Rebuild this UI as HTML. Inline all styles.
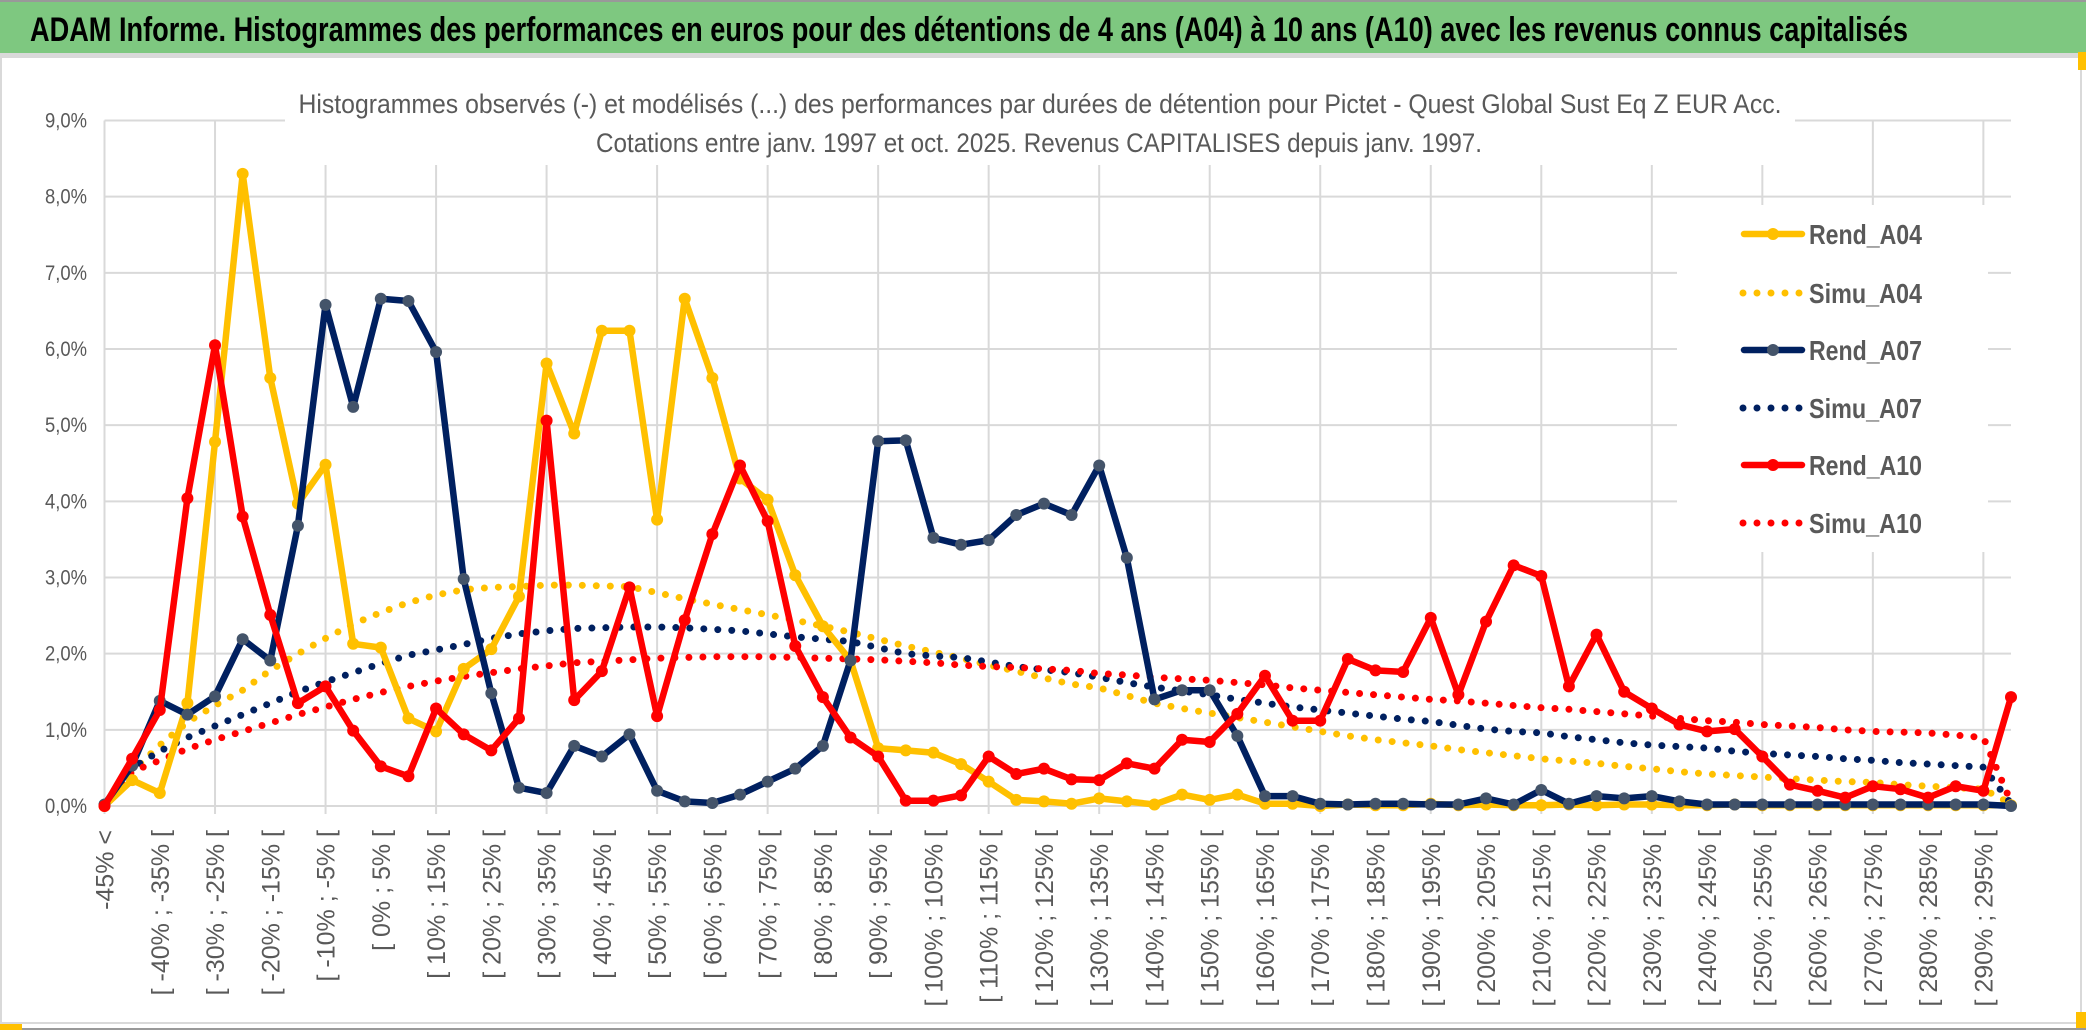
<!DOCTYPE html>
<html><head><meta charset="utf-8"><style>
html,body{margin:0;padding:0;background:#fff;}
svg{display:block;font-family:"Liberation Sans",sans-serif;}
</style></head><body>
<svg id="chart" width="2086" height="1033" viewBox="0 0 2086 1033" xmlns="http://www.w3.org/2000/svg">
<rect x="0" y="0" width="2086" height="1033" fill="#fff"/>
<rect x="0" y="2" width="2086" height="51" fill="#7EC880"/>
<rect x="0" y="0" width="2086" height="2" fill="#999"/>
<rect x="0" y="53" width="2086" height="4" fill="#d9d9d9"/>
<text x="30" y="41" font-size="34" font-weight="bold" fill="#000" textLength="1878" lengthAdjust="spacingAndGlyphs">ADAM Informe. Histogrammes des performances en euros pour des détentions de 4 ans (A04) à 10 ans (A10) avec les revenus connus capitalisés</text>
<rect x="1" y="57" width="2080" height="966" fill="none" stroke="#d9d9d9" stroke-width="2"/>
<rect x="0" y="1028" width="2086" height="2" fill="#999"/>
<rect x="0" y="1024" width="22" height="6" fill="#FFC000"/>
<rect x="2078" y="52" width="8" height="18" fill="#FFC000"/>
<rect x="2076" y="1012" width="10" height="16" fill="#FFC000"/>
<g id="grid"></g>
<g id="xlabels"></g>
<g id="ylabels"></g>
<rect x="285" y="80" width="1510" height="85" fill="#fff"/>
<text x="1040" y="113" font-size="27" fill="#595959" text-anchor="middle" textLength="1483" lengthAdjust="spacingAndGlyphs">Histogrammes observés (-) et modélisés (...) des performances par durées de détention pour Pictet - Quest Global Sust Eq Z EUR Acc.</text>
<text x="1039" y="152" font-size="27" fill="#595959" text-anchor="middle" textLength="886" lengthAdjust="spacingAndGlyphs">Cotations entre janv. 1997 et oct. 2025. Revenus CAPITALISES depuis janv. 1997.</text>
<g id="series"></g>
<rect x="1677" y="205" width="311" height="347" fill="#fff"/>
<g id="legend"></g>
</svg>
<script>
const categories = ["-45% <"];
for (let i = 1; i < 70; i++) { const lo = -45 + 5 * (i - 1); categories.push("[ " + lo + "% ; " + (lo + 5) + "% ["); }
const yTicks = [0,1,2,3,4,5,6,7,8,9];
const yTickLabels = ["0,0%","1,0%","2,0%","3,0%","4,0%","5,0%","6,0%","7,0%","8,0%","9,0%"];
const seriesNames = ["Rend_A04","Simu_A04","Rend_A07","Simu_A07","Rend_A10","Simu_A10"];
const rendA04 = [0,0.34,0.17,1.35,4.78,8.3,5.62,3.97,4.48,2.13,2.08,1.15,0.98,1.8,2.06,2.75,5.81,4.89,
6.24,6.24,3.76,6.66,5.62,4.3,4.02,3.03,2.36,1.91,0.76,0.73,0.70,0.55,0.32,0.08,0.06,0.03,
0.10,0.06,0.02,0.15,0.08,0.15,0.03,0.03,0,0.02,0.01,0.01,0.03,0.01,0.02,0.01,0.01,0.02,
0.01,0.02,0.02,0.01,0.01,0.02,0.01,0.01,0.01,0.01,0.01,0.01,0.01,0.01,0.01,0.01];
const simuA04 = [0,0.45,0.8,1.1,1.32,1.52,1.78,2.0,2.2,2.39,2.54,2.67,2.77,2.84,2.87,2.88,2.9,2.9,2.89,2.88,
2.8,2.72,2.65,2.58,2.51,2.44,2.36,2.28,2.19,2.1,2.02,1.94,1.85,1.77,1.68,1.6,1.55,1.45,1.35,1.28,
1.22,1.16,1.1,1.04,0.98,0.92,0.87,0.83,0.79,0.74,0.7,0.66,0.62,0.59,0.56,0.52,0.49,0.45,0.42,0.4,
0.38,0.36,0.34,0.32,0.31,0.28,0.26,0.24,0.22,0.03];
const rendA07 = [0.02,0.53,1.38,1.2,1.44,2.19,1.91,3.68,6.58,5.24,6.66,6.63,5.96,2.98,1.48,0.24,0.17,0.79,
0.65,0.94,0.2,0.06,0.04,0.15,0.32,0.49,0.79,1.91,4.79,4.8,3.52,3.43,3.49,3.82,3.97,3.82,
4.47,3.26,1.4,1.52,1.52,0.92,0.13,0.13,0.03,0.02,0.03,0.03,0.02,0.02,0.1,0.02,0.21,0.03,
0.13,0.1,0.13,0.06,0.02,0.02,0.02,0.02,0.02,0.02,0.02,0.02,0.02,0.02,0.02,0.0];
const simuA07 = [0,0.5,0.72,0.9,1.05,1.2,1.35,1.5,1.63,1.75,1.87,1.98,2.05,2.12,2.2,2.26,2.3,2.33,2.34,2.35,
2.35,2.34,2.32,2.3,2.26,2.22,2.19,2.16,2.08,2.0,1.97,1.95,1.89,1.83,1.79,1.75,1.69,1.62,1.56,1.51,
1.46,1.4,1.35,1.3,1.26,1.22,1.18,1.14,1.11,1.06,1.01,0.98,0.96,0.91,0.87,0.83,0.8,0.78,0.76,0.72,
0.69,0.67,0.65,0.62,0.6,0.57,0.55,0.53,0.51,0.03];
const rendA10 = [0,0.62,1.26,4.04,6.05,3.8,2.51,1.35,1.57,0.99,0.52,0.39,1.28,0.94,0.73,1.15,5.06,1.39,
1.77,2.87,1.18,2.44,3.57,4.47,3.74,2.1,1.43,0.9,0.65,0.07,0.07,0.14,0.65,0.42,0.49,0.35,
0.34,0.56,0.49,0.87,0.84,1.21,1.71,1.12,1.12,1.93,1.78,1.76,2.47,1.46,2.42,3.16,3.02,1.57,
2.25,1.5,1.28,1.07,0.98,1.01,0.65,0.28,0.2,0.11,0.26,0.22,0.11,0.26,0.2,1.43];
const simuA10 = [0,0.45,0.6,0.75,0.87,0.98,1.09,1.2,1.3,1.4,1.49,1.57,1.64,1.7,1.75,1.8,1.84,1.88,1.9,1.92,
1.94,1.95,1.96,1.96,1.96,1.95,1.94,1.93,1.92,1.9,1.88,1.85,1.83,1.82,1.8,1.78,1.74,1.72,1.69,1.67,
1.65,1.62,1.59,1.55,1.52,1.49,1.46,1.43,1.4,1.38,1.35,1.32,1.29,1.27,1.24,1.21,1.18,1.15,1.12,1.1,
1.07,1.05,1.03,1.0,0.98,0.97,0.96,0.93,0.9,0.05];

const NS = "http://www.w3.org/2000/svg";
const X0 = 104.5, X1 = 2011, Y0 = 806, Y1 = 120.5, YMAX = 9;
function xScale(i){ return X0 + (X1 - X0) * i / (categories.length - 1); }
function yScale(v){ return Y0 - (Y0 - Y1) * v / YMAX; }
function mk(tag, attrs, parent){ const e = document.createElementNS(NS, tag); for (const k in attrs) e.setAttribute(k, attrs[k]); parent.appendChild(e); return e; }

const grid = document.getElementById("grid");
yTicks.forEach(function(t){
  const l = mk("line", {x1: X0, x2: X1, y1: yScale(t), y2: yScale(t), stroke: "#d9d9d9", "stroke-width": 2}, grid);
  
  
});
for (let i = 0; i < categories.length; i += 4) {
  const l = mk("line", {x1: xScale(i), x2: xScale(i), y1: Y1, y2: Y0 + 8, stroke: "#d9d9d9", "stroke-width": 2}, grid);
  
  
}
const yl = document.getElementById("ylabels");
yTicks.forEach(function(t, i){
  const tx = mk("text", {x: 87, y: yScale(t) + 7, "font-size": 21, fill: "#595959", "text-anchor": "end", textLength: 42, lengthAdjust: "spacingAndGlyphs"}, yl);
  tx.textContent = yTickLabels[i];
  
  
});
const xl = document.getElementById("xlabels");
for (let i = 0; i < categories.length; i += 2) {
  const x = xScale(i) + 9, y = 830;
  const tx = mk("text", {x: x, y: y, "font-size": 25, fill: "#595959", "text-anchor": "end", transform: "rotate(-90 " + x + " " + y + ")"}, xl);
  tx.textContent = categories[i];
  
  
}
const sg = document.getElementById("series");
function pathFor(arr){ return arr.map(function(v, i){ return (i ? "L" : "M") + xScale(i).toFixed(1) + " " + yScale(v).toFixed(1); }).join(" "); }
function dotted(arr, color, name){
  const p = mk("path", {d: pathFor(arr), fill: "none", stroke: color, "stroke-width": 7, "stroke-linecap": "round", "stroke-dasharray": "0 14"}, sg);
  
  
}
function solid(arr, color, mcolor, name){
  const p = mk("path", {d: pathFor(arr), fill: "none", stroke: color, "stroke-width": 6.5, "stroke-linejoin": "round"}, sg);
  
  
  arr.forEach(function(v, i){
    const c = mk("circle", {cx: xScale(i), cy: yScale(v), r: 6, fill: mcolor}, sg);
    
    
  });
}
dotted(simuA04, "#FFC000", "simu-a04-line");
dotted(simuA07, "#002060", "simu-a07-line");
dotted(simuA10, "#FF0000", "simu-a10-line");
solid(rendA04, "#FFC000", "#FFC000", "rend-a04-line");
solid(rendA07, "#002060", "#44546A", "rend-a07-line");
solid(rendA10, "#FF0000", "#FF0000", "rend-a10-line");

const lg = document.getElementById("legend");
const legColors = ["#FFC000","#FFC000","#002060","#002060","#FF0000","#FF0000"];
const legMarker = ["#FFC000","#FFC000","#44546A","#44546A","#FF0000","#FF0000"];
const legY = [234,293,350,408,465,523];
seriesNames.forEach(function(n, i){
  const y = legY[i];
  if (i % 2 === 0) {
    const l = mk("line", {x1: 1744, x2: 1802, y1: y, y2: y, stroke: legColors[i], "stroke-width": 6.5, "stroke-linecap": "round"}, lg);
    
    
    const c = mk("circle", {cx: 1773, cy: y, r: 6, fill: legMarker[i]}, lg);
    
    
  } else {
    const l = mk("line", {x1: 1743, x2: 1800, y1: y, y2: y, stroke: legColors[i], "stroke-width": 7, "stroke-linecap": "round", "stroke-dasharray": "0 14"}, lg);
    
    
  }
  const t = mk("text", {x: 1809, y: y + 10, "font-size": 28, "font-weight": "bold", fill: "#595959", textLength: 113, lengthAdjust: "spacingAndGlyphs"}, lg);
  t.textContent = n;
  
  
});
</script>
</body></html>
